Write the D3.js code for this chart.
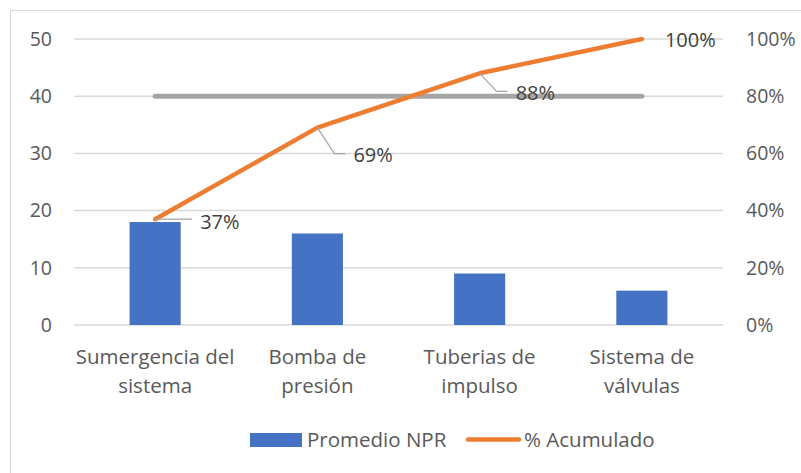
<!DOCTYPE html>
<html><head><meta charset="utf-8">
<script src="https://cdn.jsdelivr.net/npm/d3@7/dist/d3.min.js"></script>
<style>body{margin:0;background:#fff}svg{display:block}text{font-family:"Open Sans",sans-serif}</style>
</head><body><svg id="c" width="801" height="473"></svg>
<script>
const categories = [["Sumergencia del","sistema"],["Bomba de","presión"],["Tuberias de","impulso"],["Sistema de","válvulas"]];
const npr = [18, 16, 9, 6];
const acumulado = [0.37, 0.69, 0.88, 1.00];
const umbral = 0.80;
const leftTicks = [0,10,20,30,40,50];
const rightTicks = [0,0.2,0.4,0.6,0.8,1.0];
const legendLabels = ["Promedio NPR","% Acumulado"];

const svg = d3.select("#c");
const W=801,H=473;
const m = {l:74, r:723, t:39, b:325};
svg.append("rect").attr("x",10.5).attr("y",10.5).attr("width",W).attr("height",H)
  .attr("fill","#fff").attr("stroke","#d9d9d9").attr("stroke-width",1);

const x = d3.scaleBand().domain(d3.range(categories.length)).range([m.l,m.r]).paddingInner(0.685).paddingOuter(0.3425);
const yL = d3.scaleLinear().domain([0,50]).range([m.b,m.t]);
const yR = d3.scaleLinear().domain([0,1]).range([m.b,m.t]);
const cx = i => x(i)+x.bandwidth()/2;

// gridlines
svg.append("g").selectAll("line").data(leftTicks).join("line")
  .attr("x1",m.l).attr("x2",m.r).attr("y1",d=>yL(d)).attr("y2",d=>yL(d))
  .attr("stroke","#d9d9d9").attr("stroke-width",1.5);

const font = 19.5, tfont = 20.5, tc="#595959";
// left axis
const axL = d3.axisLeft(yL).tickValues(leftTicks).tickSize(0).tickPadding(22);
const gL = svg.append("g").attr("transform",`translate(${m.l},0)`).call(axL);
gL.select(".domain").remove();
gL.selectAll("text").attr("font-size",font).attr("fill",tc).attr("font-family","Open Sans");
// right axis
const axR = d3.axisRight(yR).tickValues(rightTicks).tickSize(0).tickPadding(23).tickFormat(d3.format(".0%"));
const gR = svg.append("g").attr("transform",`translate(${m.r},0)`).call(axR);
gR.select(".domain").remove();
gR.selectAll("text").attr("font-size",font).attr("fill",tc).attr("font-family","Open Sans");

// bars
svg.append("g").selectAll("rect").data(npr).join("rect")
  .attr("x",(d,i)=>x(i)).attr("width",x.bandwidth())
  .attr("y",d=>yL(d)).attr("height",d=>yL(0)-yL(d)).attr("fill","#4472c4");

// category labels
const cl = svg.append("g");
categories.forEach((c,i)=>{
  const t = cl.append("text").attr("text-anchor","middle").attr("font-size",tfont).attr("fill",tc);
  c.forEach((s,j)=>t.append("tspan").attr("x",cx(i)).attr("y",364+j*28.5).text(s));
});

// threshold line
svg.append("line").attr("x1",cx(0)).attr("x2",cx(categories.length-1))
  .attr("y1",yR(umbral)).attr("y2",yR(umbral))
  .attr("stroke","#a5a5a5").attr("stroke-width",5).attr("stroke-linecap","round");

// cumulative line
svg.append("path").datum(acumulado)
  .attr("d",d3.line().x((d,i)=>cx(i)).y(d=>yR(d)))
  .attr("fill","none").attr("stroke","#ed7d31").attr("stroke-width",4.5)
  .attr("stroke-linecap","round").attr("stroke-linejoin","round");

// data labels with leader lines
const fmt = d3.format(".0%");
const lab = [
  {dx:45, dy:10, leader:[[0,0],[37,0]]},
  {dx:36, dy:34, leader:[[0,0],[17,26],[28,26]]},
  {dx:36, dy:27, leader:[[0,0],[17,18],[28,18]]},
  {dx:23, dy:8, leader:null}
];
acumulado.forEach((v,i)=>{
  const px=cx(i), py=yR(v), L=lab[i];
  if(L.leader){
    svg.append("path").attr("d",d3.line()(L.leader.map(p=>[px+p[0],py+p[1]])))
      .attr("fill","none").attr("stroke","#a5a5a5").attr("stroke-width",1.2);
  }
  svg.append("text").attr("x",px+L.dx).attr("y",py+L.dy).attr("font-size",20)
    .attr("fill","#404040").text(fmt(v));
});

// legend
const lg = svg.append("g");
lg.append("rect").attr("x",250).attr("y",433).attr("width",52).attr("height",14).attr("fill","#4472c4");
lg.append("text").attr("x",307).attr("y",447).attr("font-size",tfont).attr("fill",tc).text(legendLabels[0]);
lg.append("line").attr("x1",468).attr("x2",519).attr("y1",439.5).attr("y2",439.5)
  .attr("stroke","#ed7d31").attr("stroke-width",4.5).attr("stroke-linecap","round");
lg.append("text").attr("x",524).attr("y",447).attr("font-size",tfont).attr("fill",tc).text(legendLabels[1]);
</script></body></html>
